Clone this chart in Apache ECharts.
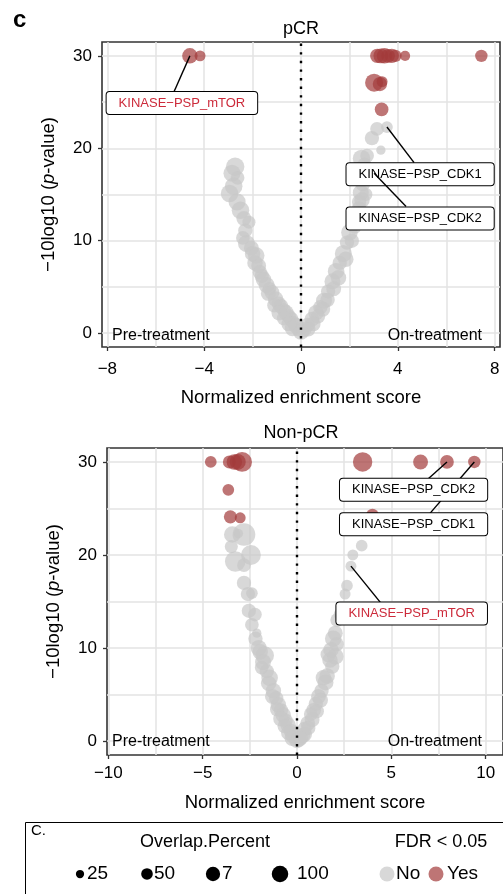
<!DOCTYPE html>
<html><head><meta charset="utf-8">
<script src="https://cdn.jsdelivr.net/npm/echarts@6/dist/echarts.min.js"></script>
<style>html,body{margin:0;padding:0;background:#fff}#c{width:503px;height:894px}</style>
</head><body><div id="c"></div>
<script>
const FONT = '"Liberation Sans", Arial, Helvetica, sans-serif';

// ---- data: [NES, -10log10(p), Overlap.Percent] ----
const pcrYes = [
  [-4.59,30,70],[-4.17,30,35],
  [3.15,30,60],[3.3,30,65],[3.45,30,70],[3.6,30,55],[3.75,30,60],[3.9,30,45],[4.3,30,30],[7.45,30,45],
  [3.02,27.1,95],[3.26,26.95,60],[3.35,27.2,35],[3.33,24.2,55]
];
const pcrNo = [
  [-2.72,18.0,100],[-2.85,17.3,85],[-2.62,16.8,55],[-2.78,15.9,90],[-2.95,15.1,90],[-2.64,14.2,85],
  [-2.5,13.3,90],[-2.36,12.4,65],[-2.15,12.0,50],[-2.3,11.1,60],[-2.4,10.3,55],[-2.25,9.7,85],
  [-2.05,9.2,65],[-1.85,8.4,80],[-1.75,7.3,65],[-1.62,6.2,60],[-1.42,5.2,75],[-1.3,4.8,55],
  [-1.2,4.4,65],[-1.05,3.7,70],[-0.92,3.2,60],[-0.83,2.9,65],[-0.7,2.5,55],[-0.62,2.2,70],
  [-0.5,1.8,60],[-0.41,1.5,65],[-0.3,1.1,55],[-0.21,0.8,70],[-0.1,0.4,60],[0.0,0.15,75],
  [-1.55,5.8,70],[-1.35,4.3,65],[-1.1,3.0,60],[-0.9,2.2,70],[-0.7,1.6,60],[-0.5,1.0,65],
  [-0.35,0.5,70],[-1.9,7.6,70],[-1.7,6.6,60],[-2.0,8.6,70],
  [3.55,22.3,40],[3.14,22.1,55],[2.93,21.1,60],[3.3,19.8,25],[2.73,19.2,55],[2.5,18.9,90],
  [2.62,18.2,60],[3.02,17.3,30],[2.68,17.4,65],[2.55,16.2,70],[2.47,15.2,75],[2.68,15.0,50],
  [2.52,14.4,70],[2.4,13.5,60],[2.3,12.4,65],[2.22,11.5,55],[2.0,10.9,80],[1.9,9.8,60],
  [1.75,8.6,85],[1.6,7.6,60],[1.45,6.7,80],[1.3,5.6,75],[1.12,4.5,60],[0.95,3.5,75],
  [0.8,2.8,60],[0.62,2.2,70],[0.45,1.5,65],[0.28,0.9,60],[0.12,0.4,70],
  [1.55,6.0,70],[1.35,4.8,65],[1.1,3.6,60],[0.9,2.6,65],[0.7,1.8,60],[0.5,1.0,65],
  [0.3,0.4,60],[1.85,8.0,70],[2.1,10.0,60],[2.2,12.0,70],[2.4,14.2,60]
];
const nonYes = [
  [-4.57,30,40],[-3.58,30,50],[-3.32,30,70],[-3.14,30,75],[-2.91,30,115],
  [-3.64,27.0,40],[-3.53,24.1,50],[-3.01,24.0,35],
  [3.48,30,110],[6.55,30,65],[7.95,30,55],[9.4,30,45],[4.0,24.3,45]
];
const nonNo = [
  [-3.43,22.2,80],[-2.81,22.2,150],[-3.1,22.3,25],[-3.48,20.9,50],[-2.44,20.0,115],[-3.27,19.3,125],
  [-2.81,18.9,55],[-2.81,17.0,60],[-2.6,15.8,60],[-2.39,15.9,40],[-2.55,14.0,60],[-2.23,13.6,55],
  [-2.39,12.5,55],[-2.13,11.6,25],[-2.03,10.0,75],[-1.71,9.2,100],[-1.87,7.9,55],[-1.6,7.5,60],
  [-1.45,6.8,80],[-1.25,5.4,70],[-1.1,4.6,60],[-0.99,3.9,70],[-0.85,3.3,60],[-0.73,2.8,70],
  [-0.6,2.2,60],[-0.47,1.7,70],[-0.33,1.1,60],[-0.21,0.6,70],[0.0,0.1,75],
  [-1.5,6.2,70],[-1.3,4.8,65],[-1.05,3.4,60],[-0.85,2.4,70],[-0.65,1.6,60],[-0.45,0.9,65],
  [-0.25,0.3,70],[-1.8,8.5,75],[-2.2,11.0,60],[-1.95,9.6,70],
  [3.43,21.0,40],[2.96,20.0,35],[2.86,18.8,35],[2.65,16.7,40],[2.55,15.8,35],[2.29,13.6,50],
  [2.13,13.0,55],[2.03,11.6,65],[1.92,11.0,80],[2.03,9.1,80],[1.87,8.0,60],[1.66,9.3,70],
  [1.51,6.3,75],[1.4,6.8,70],[1.3,5.4,60],[1.14,4.8,65],[1.0,4.0,60],[0.88,3.3,65],
  [0.73,2.9,55],[0.57,1.9,65],[0.4,1.3,60],[0.31,0.6,65],[0.1,0.2,70],
  [1.6,7.0,70],[1.25,4.4,65],[1.05,3.2,60],[0.8,2.3,65],[0.6,1.4,60],[0.4,0.7,65],
  [0.2,0.3,60],[1.75,8.7,70],[2.1,10.4,60],[1.8,9.8,70]
];

// ---- axes ----
const pcrXTicks = [-8,-4,0,4,8];
const nonXTicks = [-10,-5,0,5,10];
const yTicks = [0,10,20,30];
const pcrXGrid = [-8,-6,-4,-2,0,2,4,6,8];
const nonXGrid = [-10,-7.5,-5,-2.5,0,2.5,5,7.5,10];
const yGrid = [0,5,10,15,20,25,30];
const panelTitles = ['pCR','Non-pCR'];

// ---- legend ----
const legendSizes = [25,50,75,100];
const legendSizeLabels = ['25','50','7','100'];
const fdrLabels = ['No','Yes'];

// ---- labelled gene sets (data coords: point, leader end, box centre) ----
const pcrLabels = [
  {name:'KINASE\u2212PSP_CDK1', point:[3.55,22.3], end:[4.67,18.45], box:[4.92,17.2], color:'#000'},
  {name:'KINASE\u2212PSP_CDK2', point:[3.02,17.3], end:[4.34,13.7], box:[4.92,12.4], color:'#000'},
  {name:'KINASE\u2212PSP_mTOR', point:[-4.59,30], end:[-5.25,26.1], box:[-4.92,24.9], color:'#cc2a3a'}
];
const nonLabels = [
  {name:'KINASE\u2212PSP_CDK1', point:[9.4,30], end:[7.06,24.5], box:[6.18,23.3], color:'#000'},
  {name:'KINASE\u2212PSP_CDK2', point:[7.95,30], end:[6.96,28.2], box:[6.18,27.0], color:'#000'},
  {name:'KINASE\u2212PSP_mTOR', point:[2.86,18.8], end:[4.42,14.9], box:[6.08,13.7], color:'#cc2a3a'}
];

const GRAY = '#c8c8c8', RED = '#a33a3a';
function sz(v){ return 1.85*Math.sqrt(v); }
function keySz(v){ return 1.65*Math.sqrt(v); }
function fmtMinus(v){ return v<0 ? '\u2212'+Math.abs(v) : String(v); }

function xAxisDef(gi, min, max, ticks, margin, gap){
  return {gridIndex:gi, type:'value', min:min, max:max,
    axisLine:{show:false, onZero:false}, splitLine:{show:false},
    axisTick:{show:true, customValues:ticks, length:4, lineStyle:{color:'#333', width:1.3}},
    axisLabel:{customValues:ticks, formatter:fmtMinus, fontSize:17, color:'#000', margin:margin, fontFamily:FONT},
    name:'Normalized enrichment score', nameLocation:'middle', nameGap:gap,
    nameTextStyle:{fontSize:18.5, color:'#000', fontFamily:FONT}};
}
function yAxisDef(gi){
  return {gridIndex:gi, type:'value', min:-1.5, max:31.5,
    axisLine:{show:false, onZero:false}, splitLine:{show:false},
    axisTick:{show:true, customValues:yTicks, length:4, lineStyle:{color:'#333', width:1.3}},
    axisLabel:{customValues:yTicks, formatter:fmtMinus, fontSize:17, color:'#000', margin:10, fontFamily:FONT},
    name:'{a|\u221210log10 (}{b|p}{a|-value)}', nameLocation:'middle', nameGap:44, nameRotate:90,
    nameTextStyle:{color:'#000', fontFamily:FONT, fontSize:18.5,
      rich:{a:{fontSize:18.5, fontFamily:FONT, color:'#000'}, b:{fontSize:18.5, fontFamily:FONT, color:'#000', fontStyle:'italic'}}}};
}
function gridSeries(gi, xs){
  const d = xs.map(v=>({xAxis:v, lineStyle:{color:'#e3e3e3', width:1.5, type:'solid'}}))
    .concat(yGrid.map(v=>({yAxis:v, lineStyle:{color:'#e3e3e3', width:1.5, type:'solid'}})));
  return {type:'scatter', xAxisIndex:gi, yAxisIndex:gi, data:[], silent:true, z:1,
    markLine:{silent:true, symbol:'none', animation:false, z:1, label:{show:false}, data:d}};
}
function pointSeries(gi, data, color, z){
  return {type:'scatter', xAxisIndex:gi, yAxisIndex:gi, data:data, z:z, silent:true, animation:false,
    symbolSize:(v)=>sz(v[2]), itemStyle:{color:color, opacity:0.7}};
}
function zeroSeries(gi){
  return {type:'scatter', xAxisIndex:gi, yAxisIndex:gi, data:[], silent:true, z:4,
    markLine:{silent:true, symbol:'none', animation:false, z:4, label:{show:false},
      data:[{xAxis:0, lineStyle:{color:'#000', width:2.4, type:[2.4,6.2], cap:'butt'}}]}};
}
function labelSeries(gi, lab, z){
  return {type:'scatter', xAxisIndex:gi, yAxisIndex:gi, data:[], silent:true, z:z,
    markLine:{silent:true, symbol:'none', animation:false, z:z, label:{show:false},
      lineStyle:{color:'#000', width:1.4, type:'solid'},
      data:[[{coord:lab.point},{coord:lab.end}]]},
    markPoint:{silent:true, animation:false, z:z+1, symbol:'circle', symbolSize:1, itemStyle:{color:'rgba(0,0,0,0)'},
      data:[{coord:lab.box, label:{show:true, position:'inside', formatter:lab.name, color:lab.color,
        fontSize:13, fontFamily:FONT, lineHeight:15, backgroundColor:'#fff', borderColor:'#000',
        borderWidth:1, borderRadius:3, padding:[4,12,3,12]}}]}};
}

const series = [
  gridSeries(0, pcrXGrid), gridSeries(1, nonXGrid),
  pointSeries(0, pcrNo, GRAY, 2), pointSeries(0, pcrYes, RED, 3),
  pointSeries(1, nonNo, GRAY, 2), pointSeries(1, nonYes, RED, 3),
  zeroSeries(0), zeroSeries(1)
];
pcrLabels.forEach((l,i)=>series.push(labelSeries(0,l,10+i*2)));
nonLabels.forEach((l,i)=>series.push(labelSeries(1,l,10+i*2)));

// legend graphics
const legendEls = [
  {type:'rect', shape:{x:25.5, y:822.5, width:520, height:120}, style:{fill:'none', stroke:'#000', lineWidth:1}},
  {type:'text', x:31, y:823, style:{text:'C.', font:'15px '+FONT, fill:'#000'}},
  {type:'text', x:205, y:842, style:{text:'Overlap.Percent', font:'18px '+FONT, fill:'#000', textAlign:'center', textVerticalAlign:'middle'}},
  {type:'text', x:441, y:842, style:{text:'FDR < 0.05', font:'18px '+FONT, fill:'#000', textAlign:'center', textVerticalAlign:'middle'}}
];
const sizeX = [80,147,213,280], sizeLX = [87,154,222,297];
legendSizes.forEach((v,i)=>{
  legendEls.push({type:'circle', shape:{cx:sizeX[i], cy:874, r:keySz(v)/2}, style:{fill:'#000'}});
  legendEls.push({type:'text', x:sizeLX[i], y:874, style:{text:legendSizeLabels[i], font:'19px '+FONT, fill:'#000', textVerticalAlign:'middle'}});
});
const fdrX = [387,436], fdrLX = [396,447], fdrC = [GRAY, RED];
fdrLabels.forEach((t,i)=>{
  legendEls.push({type:'circle', shape:{cx:fdrX[i], cy:874, r:7.5}, style:{fill:fdrC[i], opacity:0.7}});
  legendEls.push({type:'text', x:fdrLX[i], y:874, style:{text:t, font:'19px '+FONT, fill:'#000', textVerticalAlign:'middle'}});
});

const textEls = [
  {type:'text', x:13, y:8, style:{text:'c', font:'bold 24px '+FONT, fill:'#000'}},
  {type:'text', x:301, y:29, style:{text:panelTitles[0], font:'18px '+FONT, fill:'#000', textAlign:'center', textVerticalAlign:'middle'}},
  {type:'text', x:301, y:433, style:{text:panelTitles[1], font:'18px '+FONT, fill:'#000', textAlign:'center', textVerticalAlign:'middle'}},
  {type:'text', x:112, y:336, z:20, style:{text:'Pre-treatment', font:'16px '+FONT, fill:'#000', textVerticalAlign:'middle'}},
  {type:'text', x:482, y:336, z:20, style:{text:'On-treatment', font:'16px '+FONT, fill:'#000', textAlign:'right', textVerticalAlign:'middle'}},
  {type:'text', x:112, y:742, z:20, style:{text:'Pre-treatment', font:'16px '+FONT, fill:'#000', textVerticalAlign:'middle'}},
  {type:'text', x:482, y:742, z:20, style:{text:'On-treatment', font:'16px '+FONT, fill:'#000', textAlign:'right', textVerticalAlign:'middle'}}
];

const chart = echarts.init(document.getElementById('c'), null, {renderer:'canvas'});
chart.setOption({
  animation:false,
  backgroundColor:'#fff',
  textStyle:{fontFamily:FONT},
  grid:[
    {left:102, top:42, width:398, height:305, show:true, borderColor:'#333', borderWidth:1.6, backgroundColor:'#fff', containLabel:false},
    {left:107, top:448, width:404, height:307, show:true, borderColor:'#333', borderWidth:1.6, backgroundColor:'#fff', containLabel:false}
  ],
  xAxis:[xAxisDef(0,-8.22,8.22,pcrXTicks,14,41), xAxisDef(1,-10.07,10.92,nonXTicks,10,38)],
  yAxis:[yAxisDef(0), yAxisDef(1)],
  series:series,
  graphic:{elements:textEls.concat(legendEls)}
});
</script></body></html>
